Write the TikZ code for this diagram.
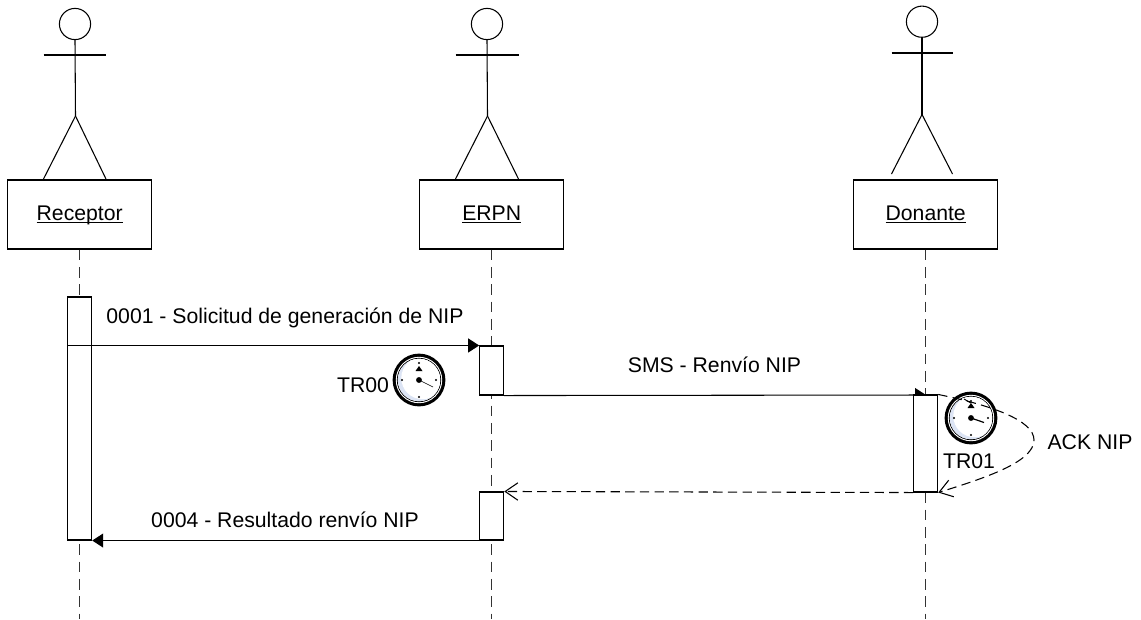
\documentclass[tikz,border=0pt]{standalone}
\usepackage{fontspec}
\setmainfont{Liberation Sans}
\usetikzlibrary{arrows.meta}
\definecolor{clockblue}{HTML}{DCE4F4}
\newcommand{\ulabel}[1]{\setbox0=\hbox{#1}\rlap{\rule[-2.2pt]{\wd0}{0.8pt}}\box0}
\newcommand{\clockface}[5]{%
\begin{scope}[shift={(#1)}]
\fill (0,0) circle[radius=19.8pt];
\fill[white] (0,0) circle[radius=17.4pt];
\fill (0,0) circle[radius=16.6pt];
\fill[white] (0,0) circle[radius=15.9pt];
\begin{scope}
\clip (0,0) circle[radius=15.9pt];
\fill[clockblue] (0,0) circle[radius=15.9pt];
\fill[white] (3.5,-2) circle[radius=15.9pt];
\end{scope}
\fill (0,-17) circle[radius=0.8pt];
\fill (17,0) circle[radius=0.8pt];
\fill (0,17) circle[radius=0.8pt];
\fill (-17,0) circle[radius=0.8pt];
\fill (0,0) circle[radius=2.2pt];
\draw[line width=#3] (0,0) -- (#2);
\fill (#4) -- ++(-3.5,5) -- ++(7,0) -- cycle;
#5
\end{scope}}
\tikzset{
msg/.style={inner sep=0pt,font=\fontsize{15.9pt}{18pt}\selectfont},
freemsg/.style={msg,anchor=base},
lifebox/.style={draw,msg,minimum width=108pt,minimum height=51.75pt,fill=white,text height=12pt,text depth=3.5pt},
acthead/.style={draw,circle,minimum size=23.4pt,inner sep=0pt},
actbox/.style={draw,fill=white,minimum width=18pt,inner sep=0pt},
lifeline/.style={dash pattern=on 8pt off 5pt,draw=black!80},
solidtip/.style={-{Triangle[length=8.25pt,width=10.5pt]}},
opentip/.style={-{Straight Barb[length=9.5pt,width=13pt]}}
}
\begin{document}
\begin{tikzpicture}[x=0.75pt,y=-0.75pt,line width=0.8pt]
\useasboundingbox (0,0) rectangle (1141,619);

\node[acthead] (recHead) at (75,24) {};
\draw (recHead.south) -- (75.5,116) coordinate (recHip);
\draw (43.5,55) -- (106,55);
\draw (recHip) -- (43.5,179);
\draw (recHip) -- (106,179);

\node[acthead] (erpHead) at (487,24) {};
\draw (erpHead.south) -- (487.5,116) coordinate (erpHip);
\draw (455.5,55) -- (518.5,55);
\draw (erpHip) -- (455.5,179);
\draw (erpHip) -- (518.5,179);

\node[acthead] (donHead) at (922,21.7) {};
\draw (donHead.south) -- (922,114.5) coordinate (donHip);
\draw (891.5,53) -- (952.5,53);
\draw (donHip) -- (891.5,174);
\draw (donHip) -- (952.5,174);

\node[lifebox] (recBox) at (79.7,214.5) {\ulabel{Receptor}};
\node[lifebox] (erpBox) at (491.7,214.5) {\ulabel{ERPN}};
\node[lifebox] (donBox) at (925.7,214.5) {\ulabel{Donante}};

\coordinate (recEnd) at (79.7,619);
\coordinate (erpEnd) at (491.7,619);
\coordinate (donEnd) at (925.7,619);
\draw[lifeline] (recBox.south) -- (recEnd);
\draw[lifeline] (erpBox.south) -- (erpEnd);
\draw[lifeline] (donBox.south) -- (donEnd);

\node[actbox,minimum height=182.25pt] (recAct) at (79.7,418.5) {};
\node[actbox,minimum height=36.75pt] (erpActA) at (491.7,370.5) {};
\node[actbox,minimum height=36pt] (erpActB) at (491.7,516) {};

\draw[solidtip] (recAct.west |- erpActA.north west) -- (erpActA.north west);
\draw[solidtip] (erpActB.south east) -- (recAct.south east);
\coordinate (smsTip) at (926,395);
\draw[solidtip] (erpActA.south east) -- (smsTip);

\node[actbox,minimum height=72.75pt] (donAct) at (925.7,443.5) {};

\draw[dash pattern=on 7pt off 4pt,opentip] (donAct.south west) -- (erpActB.north east);

\clockface{419,380}{14,7}{0.4pt}{0,-14}{}
\clockface{971,418}{13,4.5}{0.9pt}{0,-15}{\draw[line width=0.7pt] (0,-15) -- (-7,-19);}

\draw[dash pattern=on 7pt off 4pt,opentip] (donAct.north east) .. controls (990,405) and (1034,420) .. (1034,440) .. controls (1034,462) and (985,478) .. (donAct.south east);

\node[freemsg] (lblSol) at (285,323.3) {0001 - Solicitud de generación de NIP};
\node[freemsg] (lblSms) at (714.5,372) {SMS - Renvío NIP};
\node[freemsg] (lblTra) at (363,392.7) {TR00};
\node[freemsg] (lblTrb) at (969,468) {TR01};
\node[freemsg] (lblAck) at (1090,449) {ACK NIP};
\node[freemsg] (lblRes) at (285,527.3) {0004 - Resultado renvío NIP};
\end{tikzpicture}
\end{document}
